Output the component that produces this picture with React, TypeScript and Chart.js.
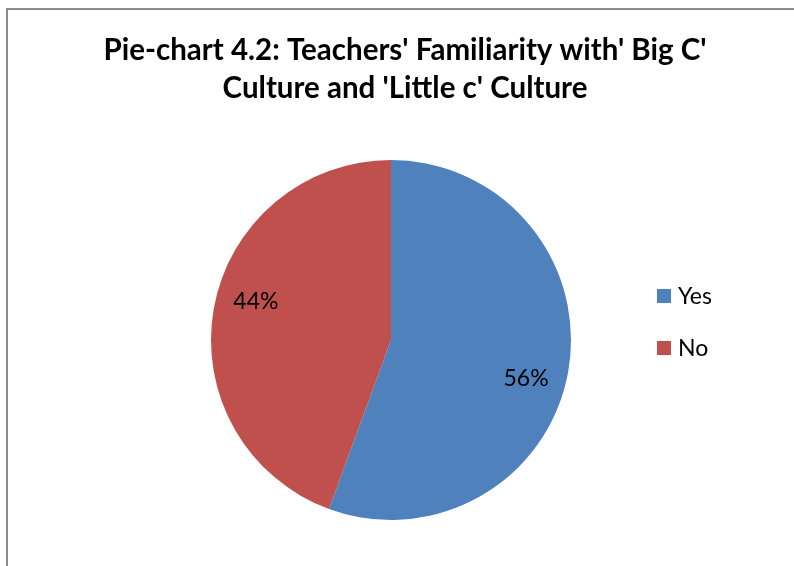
import React, { useEffect, useRef } from "react";
import { Chart, registerables } from "chart.js";
Chart.register(...registerables);

const categories = ["Yes", "No"];
const values = [55.6, 44.4];
const sliceColors = ["#4F81BD", "#C0504D"];
const titleLines = [
  "Pie-chart 4.2: Teachers' Familiarity with' Big C'",
  "Culture and 'Little c' Culture",
];

const FONT = "Lato, 'Open Sans', sans-serif";

const overlayPlugin = {
  id: "overlay",
  afterDraw(chart: any) {
    const ctx = chart.ctx;
    ctx.save();
    // Title
    ctx.fillStyle = "#000";
    ctx.textAlign = "center";
    ctx.textBaseline = "alphabetic";
    ctx.font = `bold 29.5px ${FONT}`;
    ctx.fillText(titleLines[0], 405, 60);
    ctx.fillText(titleLines[1], 405, 98);

    // Percentage labels
    const meta = chart.getDatasetMeta(0);
    const total = values.reduce((a, b) => a + b, 0);
    ctx.font = `23px ${FONT}`;
    ctx.textBaseline = "middle";
    meta.data.forEach((arc: any, i: number) => {
      const { x, y, startAngle, endAngle, outerRadius } = arc.getProps(
        ["x", "y", "startAngle", "endAngle", "outerRadius"],
        true
      );
      const mid = (startAngle + endAngle) / 2 + 0.1;
      const r = outerRadius * 0.78;
      const pct = Math.round((values[i] / total) * 100) + "%";
      ctx.fillText(pct, x + Math.cos(mid) * r, y + Math.sin(mid) * r);
    });

    // Legend
    ctx.textAlign = "left";
    const legendX = 657;
    const legendY = [296, 348];
    categories.forEach((c, i) => {
      ctx.fillStyle = sliceColors[i];
      ctx.fillRect(legendX, legendY[i] - 7, 14, 14);
      ctx.fillStyle = "#000";
      ctx.fillText(c, legendX + 21, legendY[i] + 1);
    });
    ctx.restore();
  },
};

export default function App() {
  const ref = useRef<HTMLCanvasElement | null>(null);
  useEffect(() => {
    if (!ref.current) return;
    const chart = new Chart(ref.current, {
      type: "pie",
      data: {
        labels: categories,
        datasets: [
          {
            data: values,
            backgroundColor: sliceColors,
            borderWidth: 0,
          },
        ],
      },
      options: {
        animation: false,
        responsive: false,
        maintainAspectRatio: false,
        layout: { padding: { left: 211, right: 223, top: 160, bottom: 46 } },
        plugins: {
          legend: { display: false },
          title: { display: false },
          tooltip: { enabled: false },
        },
      },
      plugins: [overlayPlugin],
    });
    return () => chart.destroy();
  }, []);

  return (
    <div style={{ position: "fixed", left: 0, top: 0, width: 794, height: 566, background: "#fff", overflow: "hidden" }}>
      <div
        style={{
          position: "absolute",
          left: 6,
          top: 8,
          width: 820,
          height: 620,
          border: "2px solid #8c8c8c",
          boxSizing: "border-box",
        }}
      />
      <canvas ref={ref} width={794} height={566} style={{ position: "absolute", left: 0, top: 0 }} />
    </div>
  );
}
